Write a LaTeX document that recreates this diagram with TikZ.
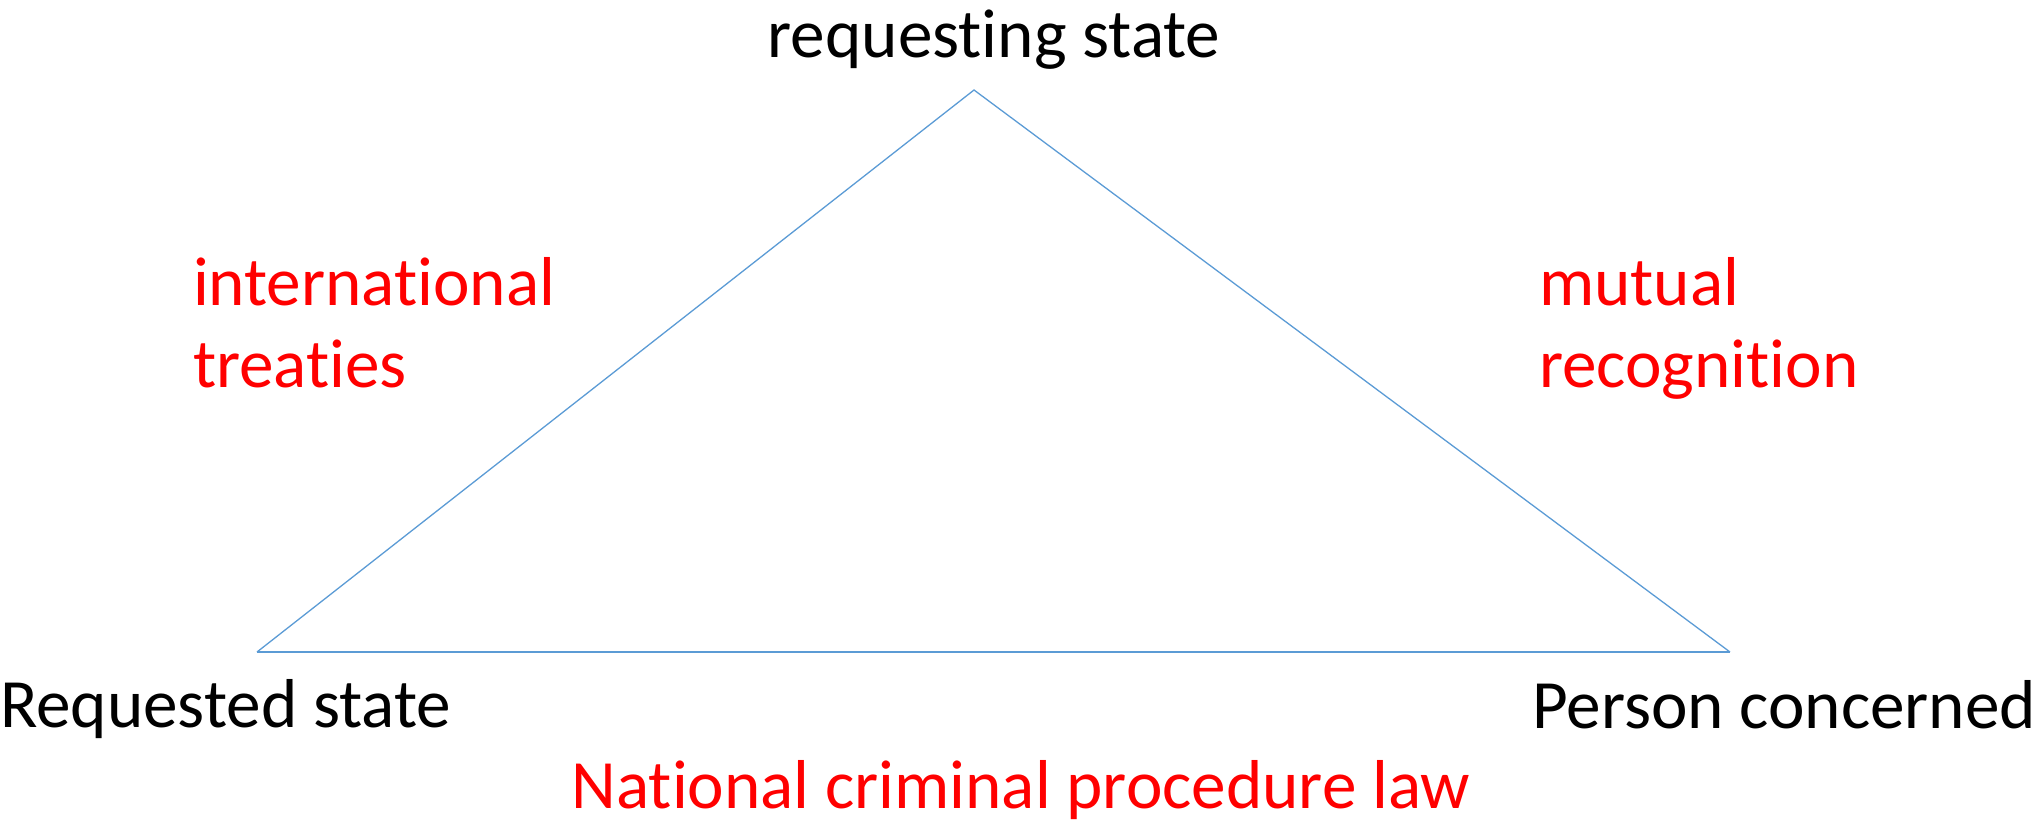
\documentclass[tikz,border=0pt]{standalone}
\usepackage{fontspec}
\setmainfont{Carlito}[Ligatures=NoCommon]
\definecolor{lineblue}{HTML}{5B9BD5}
\definecolor{lawred}{HTML}{FF0000}
\begin{document}
\begin{tikzpicture}[x=0.5pt,y=-0.5pt,
  lbl/.style={inner sep=0pt,outer sep=0pt,font=\fontsize{34.6}{41}\selectfont},
  redlbl/.style={lbl,text=lawred,align=left},
  side/.style={draw=lineblue,line width=0.65pt},
  base/.style={draw=lineblue,line width=1pt}]
\useasboundingbox (0,0) rectangle (2038,826);
\coordinate (top) at (974,90);
\coordinate (left) at (257,652);
\coordinate (right) at (1730,652);
\draw[side] (left) -- (top) -- (right);
\draw[base] (left) -- (right);
\node[lbl,anchor=base] (req) at (994,57) {requesting state};
\node[lbl,anchor=base west] (rqd) at (0,727) {Requested state};
\node[lbl,anchor=base east] (pers) at (2036,728) {Person concerned};
\node[redlbl,anchor=base west] (intl) at (193,387) {international\\treaties};
\node[redlbl,anchor=base west] (mut) at (1539,387) {mutual\\recognition};
\node[lbl,text=lawred,anchor=base] (nat) at (1021,808) {National criminal procedure law};
\end{tikzpicture}
\end{document}
